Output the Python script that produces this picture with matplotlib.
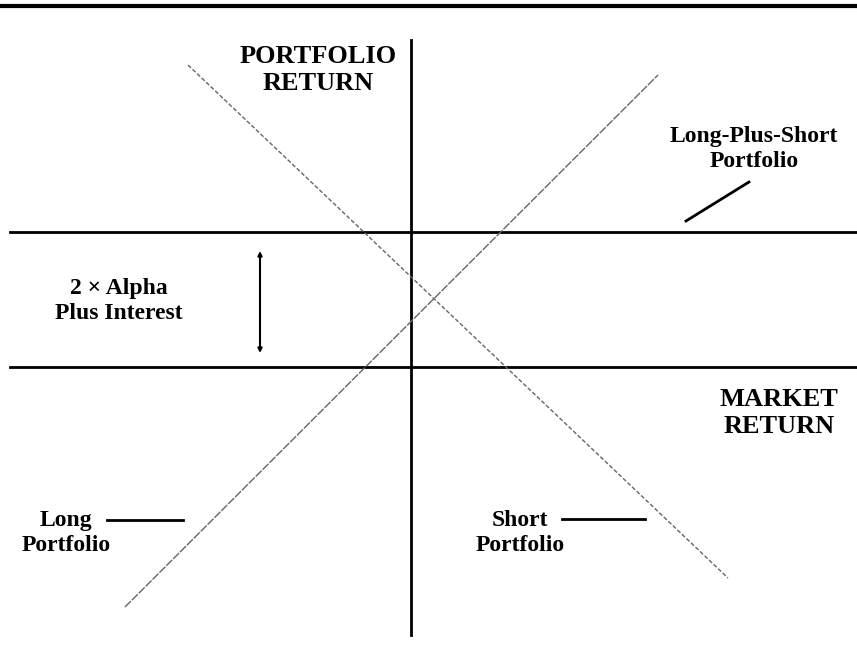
import matplotlib.pyplot as plt

# ------------------------------------------------------------
# data (conceptual units: market return on x, portfolio return on y)
# ------------------------------------------------------------
long_mkt = [-2.86, 2.47]
long_ret = [-2.40, 2.92]
short_mkt = [-2.23, 3.17]
short_ret = [3.02, -2.11]
combined_level = 1.35   # 2 x alpha plus interest
market_level = 0.0

labels = {
    "y_axis": "PORTFOLIO\nRETURN",
    "x_axis": "MARKET\nRETURN",
    "combined": "Long-Plus-Short\nPortfolio",
    "gap": "2 \u00d7 Alpha\nPlus Interest",
    "long": "Long\nPortfolio",
    "short": "Short\nPortfolio",
}

plt.rcParams["font.family"] = ["Liberation Serif", "DejaVu Serif"]

fig = plt.figure(figsize=(8.57, 6.47), dpi=100)
ax = fig.add_axes([0, 0, 1, 1])
ax.set_xlim(-4.11, 4.46)
ax.set_ylim(-2.80, 3.67)
ax.axis("off")

# page rule at top
ax.axhline(3.61, color="black", lw=3)

# axes and the combined portfolio line
ax.plot([0, 0], [-2.68, 3.27], color="black", lw=2)
ax.plot([-4.01, 4.46], [market_level, market_level], color="black", lw=2)
ax.plot([-4.01, 4.46], [combined_level, combined_level], color="black", lw=2)

# long and short portfolio lines
ax.plot(long_mkt, long_ret, color="#666666", lw=1, ls=(0, (6, 1)))
ax.plot(short_mkt, short_ret, color="#666666", lw=1, ls=(0, (3, 1.5)))

# double arrow for the gap
ax.annotate("", xy=(-1.51, 1.16), xytext=(-1.51, 0.14),
            arrowprops=dict(arrowstyle="<|-|>", color="black", lw=1.5,
                            mutation_scale=6, shrinkA=0, shrinkB=0))

# pointer lines
ax.plot([-3.04, -2.28], [-1.53, -1.53], color="black", lw=2)
ax.plot([1.51, 2.34], [-1.52, -1.52], color="black", lw=2)
ax.plot([2.75, 3.38], [1.46, 1.85], color="black", lw=2)

big = dict(fontsize=19, fontweight="bold", ha="center", va="center",
           multialignment="center", linespacing=1.2)
small = dict(fontsize=17, fontweight="bold", ha="center", va="center",
             multialignment="center", linespacing=1.2)

ax.text(-0.93, 2.97, labels["y_axis"], **big)
ax.text(3.68, -0.46, labels["x_axis"], **big)
ax.text(3.43, 2.18, labels["combined"], **small)
ax.text(-2.92, 0.66, labels["gap"], **small)
ax.text(-3.45, -1.66, labels["long"], **small)
ax.text(1.09, -1.66, labels["short"], **small)

fig.savefig("out.png", dpi=100)
